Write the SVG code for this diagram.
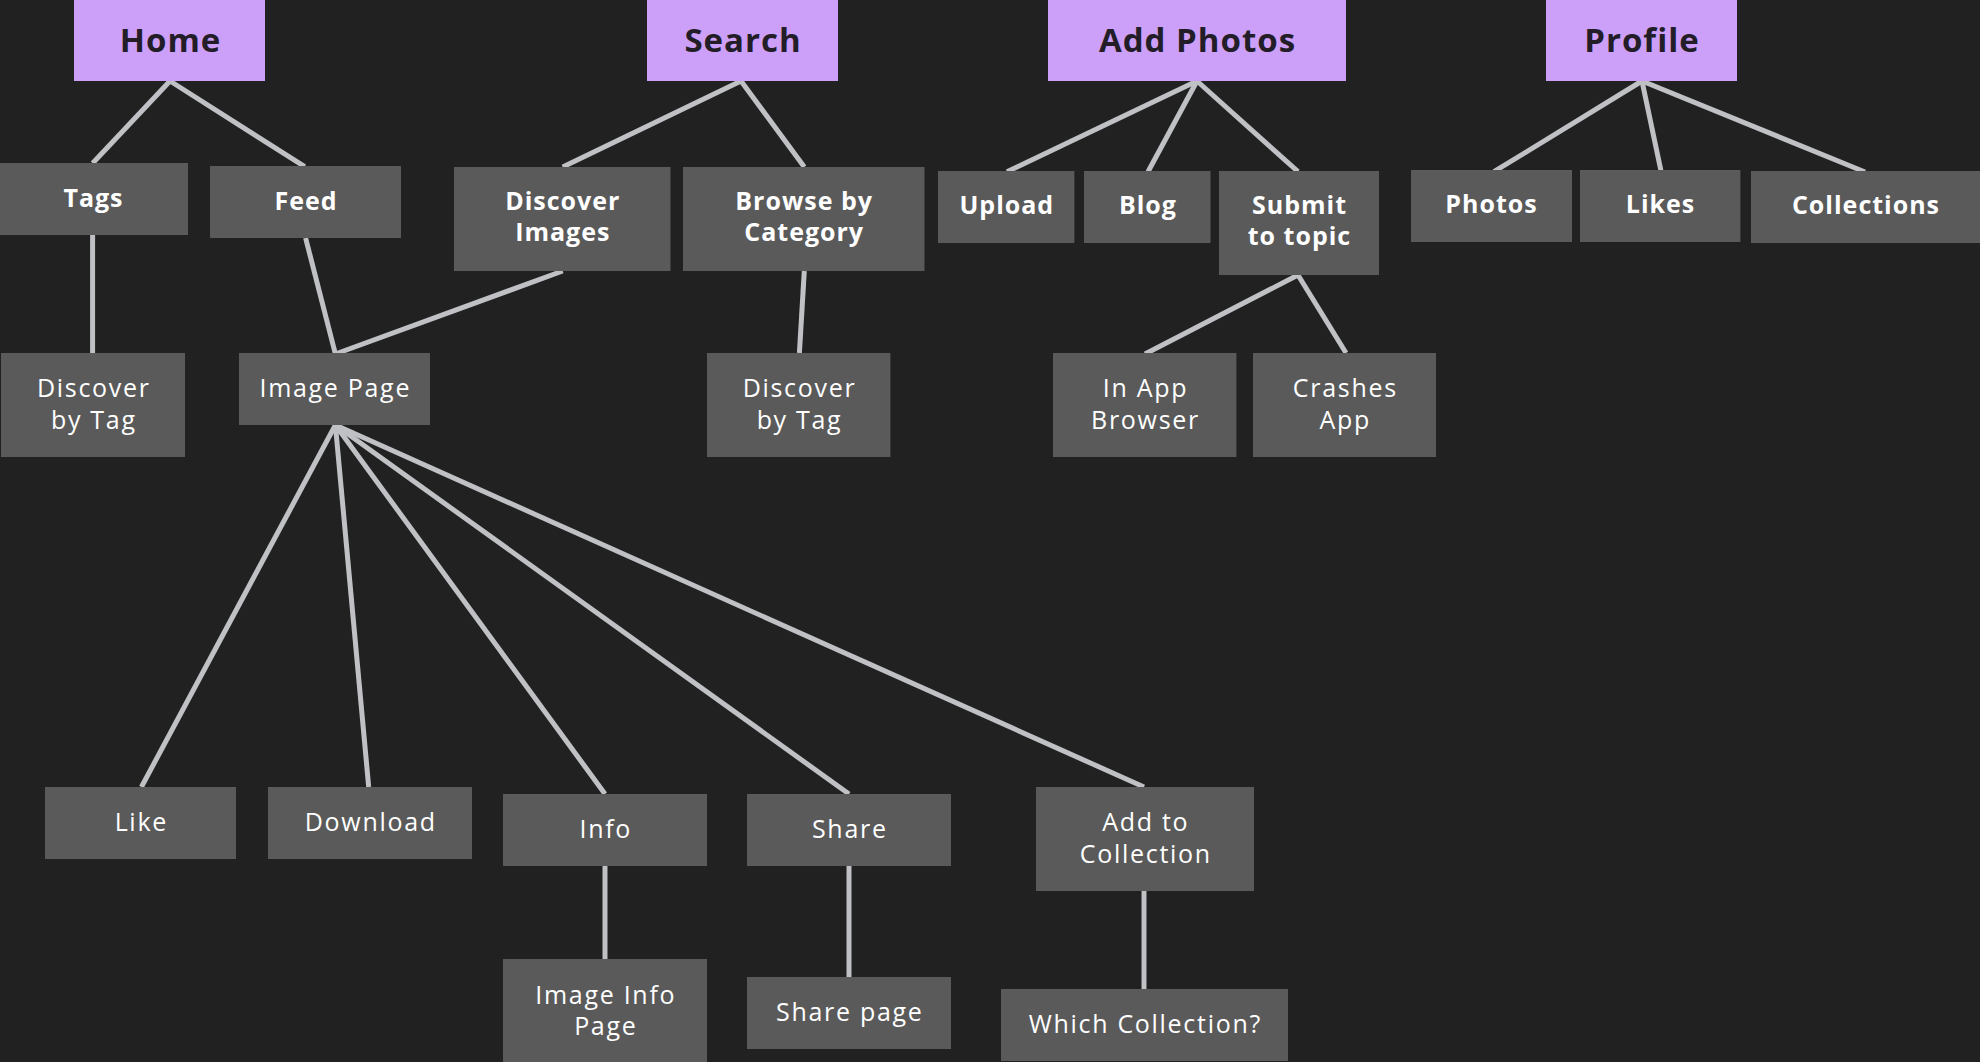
<svg xmlns="http://www.w3.org/2000/svg" width="1980" height="1062" viewBox="0 0 1980 1062">
<style>
.bg{fill:#212121}
.top rect{fill:#cc9ff9}
.top text{font-family:"Open Sans","Liberation Sans",sans-serif;font-weight:700;font-size:33px;letter-spacing:1px;fill:#221d27;text-anchor:middle}
.n rect{fill:#5a5a5a}
.b text{font-family:"Open Sans","Liberation Sans",sans-serif;font-weight:700;font-size:25px;letter-spacing:1px;fill:#ffffff;text-anchor:middle}
.r text{font-family:"Open Sans","Liberation Sans",sans-serif;font-weight:400;font-size:25px;letter-spacing:1.7px;fill:#ffffff;text-anchor:middle}
#connectors line{stroke:#bfc1c5;stroke-width:5;fill:none}
</style>
<rect class="bg" x="0" y="0" width="1980" height="1062"/>
<g id="connectors">
<line x1="170" y1="81" x2="92.6" y2="163.3"/>
<line x1="170" y1="81" x2="304.7" y2="166.7"/>
<line x1="741" y1="81" x2="562.7" y2="167"/>
<line x1="741" y1="81" x2="804.3" y2="167"/>
<line x1="1197" y1="81" x2="1007" y2="171.7"/>
<line x1="1197" y1="81" x2="1148" y2="171.7"/>
<line x1="1197" y1="81" x2="1298" y2="171.7"/>
<line x1="1642" y1="81" x2="1494" y2="171.7"/>
<line x1="1642" y1="81" x2="1661" y2="171"/>
<line x1="1642" y1="81" x2="1865" y2="172"/>
<line x1="92.6" y1="235" x2="92.6" y2="353"/>
<line x1="305.6" y1="238" x2="335.4" y2="354"/>
<line x1="562.7" y1="271" x2="335.4" y2="354"/>
<line x1="804.3" y1="271" x2="799.4" y2="353"/>
<line x1="1298" y1="275" x2="1145" y2="354"/>
<line x1="1298" y1="275" x2="1346" y2="353"/>
<line x1="335.4" y1="425" x2="141.4" y2="787"/>
<line x1="335.4" y1="425" x2="368.7" y2="787"/>
<line x1="335.4" y1="425" x2="605" y2="794"/>
<line x1="335.4" y1="425" x2="849" y2="794"/>
<line x1="335.4" y1="425" x2="1144" y2="787"/>
<line x1="605" y1="866" x2="605" y2="959"/>
<line x1="849" y1="866" x2="849" y2="977"/>
<line x1="1144" y1="891" x2="1144" y2="989"/>
</g>
<g id="home" class="top"><rect x="74" y="0" width="191" height="81"/><text x="170.5" y="52">Home</text></g>
<g id="search" class="top"><rect x="647" y="0" width="191" height="81"/><text x="743" y="52">Search</text></g>
<g id="add-photos" class="top"><rect x="1048" y="0" width="298" height="81"/><text x="1197.5" y="52">Add Photos</text></g>
<g id="profile" class="top"><rect x="1546" y="0" width="191" height="81"/><text x="1642" y="52">Profile</text></g>

<g id="tags" class="n b"><rect x="0" y="163" width="188" height="72"/><text x="93.5" y="207">Tags</text></g>
<g id="feed" class="n b"><rect x="210" y="166" width="191" height="72"/><text x="306" y="210">Feed</text></g>
<g id="discover-images" class="n b"><rect x="454" y="167" width="216.5" height="104"/><text x="562.8" y="210">Discover</text><text x="562.8" y="241">Images</text></g>
<g id="browse-by-category" class="n b"><rect x="683" y="167" width="241.5" height="104"/><text x="804.2" y="210">Browse by</text><text x="804.2" y="241">Category</text></g>
<g id="upload" class="n b"><rect x="938" y="171" width="136.4" height="72"/><text x="1006.8" y="214">Upload</text></g>
<g id="blog" class="n b"><rect x="1084" y="171" width="126.5" height="72"/><text x="1147.9" y="214">Blog</text></g>
<g id="submit-to-topic" class="n b"><rect x="1219" y="171" width="160" height="104"/><text x="1299.5" y="214">Submit</text><text x="1299.5" y="245">to topic</text></g>
<g id="photos" class="n b"><rect x="1411" y="170" width="161" height="72"/><text x="1491.5" y="213">Photos</text></g>
<g id="likes" class="n b"><rect x="1580" y="170" width="160.4" height="72"/><text x="1660.5" y="213">Likes</text></g>
<g id="collections" class="n b"><rect x="1751" y="171" width="229" height="72"/><text x="1866" y="214">Collections</text></g>

<g id="discover-by-tag-1" class="n r"><rect x="1" y="353" width="184" height="104"/><text x="93.8" y="397">Discover</text><text x="93.8" y="429">by Tag</text></g>
<g id="image-page" class="n r"><rect x="239" y="353" width="191" height="72"/><text x="335.3" y="397">Image Page</text></g>
<g id="discover-by-tag-2" class="n r"><rect x="707" y="353" width="183.4" height="104"/><text x="799.5" y="397">Discover</text><text x="799.5" y="429">by Tag</text></g>
<g id="in-app-browser" class="n r"><rect x="1053" y="353" width="183.4" height="104"/><text x="1145.5" y="397">In App</text><text x="1145.5" y="429">Browser</text></g>
<g id="crashes-app" class="n r"><rect x="1253" y="353" width="183" height="104"/><text x="1345.3" y="397">Crashes</text><text x="1345.3" y="429">App</text></g>

<g id="like" class="n r"><rect x="45" y="787" width="191" height="72"/><text x="141.3" y="831">Like</text></g>
<g id="download" class="n r"><rect x="268" y="787" width="204" height="72"/><text x="370.8" y="831">Download</text></g>
<g id="info" class="n r"><rect x="503" y="794" width="204" height="72"/><text x="605.8" y="838">Info</text></g>
<g id="share" class="n r"><rect x="747" y="794" width="204" height="72"/><text x="849.8" y="838">Share</text></g>
<g id="add-to-collection" class="n r"><rect x="1036" y="787" width="218" height="104"/><text x="1145.8" y="831">Add to</text><text x="1145.8" y="863">Collection</text></g>
<g id="image-info-page" class="n r"><rect x="503" y="959" width="204" height="104"/><text x="605.8" y="1003.5">Image Info</text><text x="605.8" y="1035">Page</text></g>
<g id="share-page" class="n r"><rect x="747" y="977" width="204" height="72"/><text x="849.8" y="1021">Share page</text></g>
<g id="which-collection" class="n r"><rect x="1001" y="989" width="287" height="72"/><text x="1145.3" y="1033">Which Collection?</text></g>
</svg>
